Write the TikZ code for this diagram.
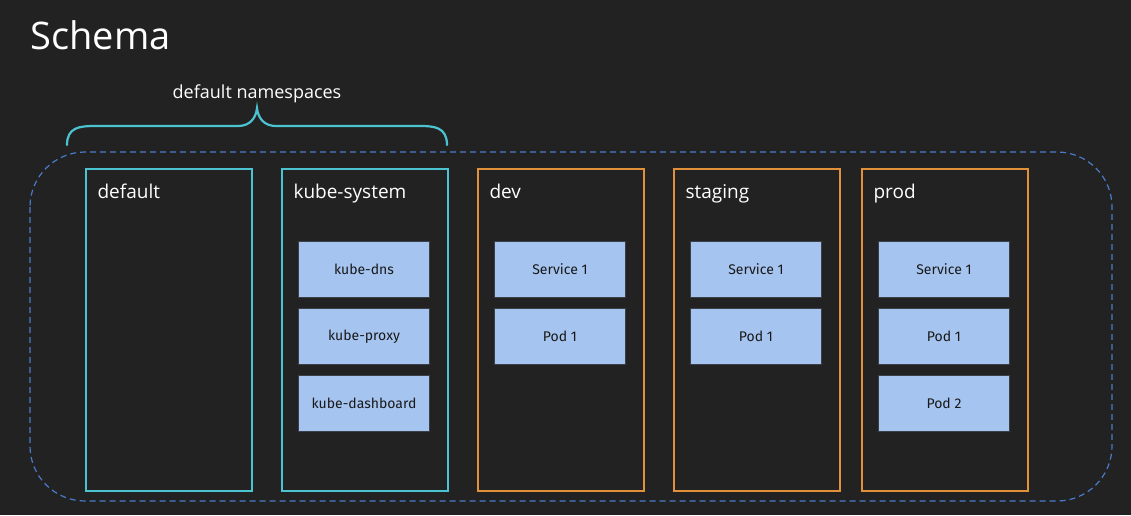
\documentclass[tikz,border=0pt]{standalone}
\usepackage{fontspec}
\setmainfont{Open Sans}
\newfontfamily\boxfont{Fira Sans}
\begin{document}
\begin{tikzpicture}[x=1pt,y=-1pt,
  ns/.style={draw=#1, line width=1.5pt, fill=bg, minimum width=166pt, minimum height=322pt, anchor=north west, inner sep=0pt},
  item/.style={draw=itemborder, line width=1pt, fill=itemfill, minimum width=131pt, minimum height=56pt, anchor=north west, inner sep=0pt, font=\boxfont\fontsize{14}{16}\selectfont, text=black!90},
  nslabel/.style={anchor=base west, text=white, font=\fontsize{19}{22}\selectfont}]
\definecolor{bg}{HTML}{222222}
\definecolor{cyanc}{HTML}{4CC3D1}
\definecolor{orangec}{HTML}{E0913A}
\definecolor{itemfill}{HTML}{A6C4F0}
\definecolor{itemborder}{HTML}{3A3F48}
\definecolor{dashc}{HTML}{4A7BC8}
\fill[bg] (0,0) rectangle (1131,515);
\useasboundingbox (0,0) rectangle (1131,515);
\node[anchor=base west, text=white, font=\fontsize{38}{44}\selectfont] (title) at (27,49) {Schema};
\node[anchor=base, text=white, font=\fontsize{18}{22}\selectfont] (dnlabel) at (257,98) {default namespaces};
\draw[cyanc, line width=2.2pt, line cap=round] (67,145) .. controls (67,127) and (80,126) .. (95,126) -- (238,126) .. controls (250,126) and (256,118) .. (257,108) .. controls (258,118) and (264,126) .. (276,126) -- (420,126) .. controls (434,126) and (447,127) .. (447,145);
\draw[dashc, dash pattern=on 6pt off 4pt, line width=1.2pt, rounded corners=55pt] (30,152) rectangle (1112,501);
\node[ns=cyanc] (default) at (85,168) {};
\node[ns=cyanc] (kubesys) at (281,168) {};
\node[ns=orangec] (dev) at (477,168) {};
\node[ns=orangec] (staging) at (673,168) {};
\node[ns=orangec] (prod) at (861,168) {};
\node[nslabel] at (94,198) {default};
\node[nslabel] at (290,198) {kube-system};
\node[nslabel] at (486,198) {dev};
\node[nslabel] at (682,198) {staging};
\node[nslabel] at (870,198) {prod};
\node[item] (kdns) at (298,241) {kube-dns};
\node[item] (kproxy) at (298,308) {kube-proxy};
\node[item] (kdash) at (298,375) {kube-dashboard};
\node[item] (devsvc) at (494,241) {Service 1};
\node[item] (devpod) at (494,308) {Pod 1};
\node[item] (stsvc) at (690,241) {Service 1};
\node[item] (stpod) at (690,308) {Pod 1};
\node[item] (prsvc) at (878,241) {Service 1};
\node[item] (prpod1) at (878,308) {Pod 1};
\node[item] (prpod2) at (878,375) {Pod 2};
\end{tikzpicture}
\end{document}
